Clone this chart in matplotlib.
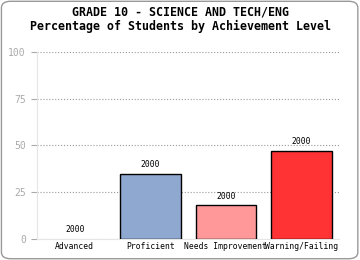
import matplotlib
matplotlib.use('Agg')
import matplotlib.pyplot as plt
from matplotlib.patches import FancyBboxPatch

# 데이터
levels = ['Advanced', 'Proficient', 'Needs Improvement', 'Warning/Failing']
percents = [0, 35, 18, 47]
bar_labels = ['2000', '2000', '2000', '2000']
colors = ['#8fa8cf', '#8fa8cf', '#ff9999', '#ff3333']
yticks = [0, 25, 50, 75, 100]

fig = plt.figure(figsize=(3.6, 2.6), dpi=100)

# 바깥 둥근 테두리
border = FancyBboxPatch((0.004, 0.005), 0.99, 0.99, boxstyle='round,pad=0,rounding_size=0.025',
                        transform=fig.transFigure, fill=False, edgecolor='#999999', linewidth=1.0)
fig.patches.append(border)

fig.text(0.5, 0.955, 'GRADE 10 - SCIENCE AND TECH/ENG', ha='center', va='center',
         family='DejaVu Sans Mono', fontweight='bold', fontsize=8.4)
fig.text(0.5, 0.9, 'Percentage of Students by Achievement Level', ha='center', va='center',
         family='DejaVu Sans Mono', fontweight='bold', fontsize=8.4)

ax = fig.add_axes([0.103, 0.081, 0.839, 0.719])
x = range(len(levels))
bars = ax.bar(x, percents, width=0.8, color=colors, edgecolor='black', linewidth=1.0, zorder=3)
for b, p in zip(bars, percents):
    if p == 0:
        b.set_linewidth(0)
for i, (p, lab) in enumerate(zip(percents, bar_labels)):
    ax.text(i, p + 2.5, lab, ha='center', va='bottom', fontsize=5.8, family='DejaVu Sans Mono')

ax.set_xlim(-0.5, len(levels) - 0.5)
ax.set_ylim(0, 100)
ax.set_yticks(yticks)
ax.set_yticklabels([str(t) for t in yticks], color='#aaaaaa', fontsize=7, family='DejaVu Sans Mono')
ax.set_xticks(list(x))
ax.set_xticklabels(levels, fontsize=5.8, family='DejaVu Sans Mono')
ax.tick_params(axis='x', length=0, pad=2)
ax.tick_params(axis='y', length=4, color='#aaaaaa', pad=4)
ax.yaxis.grid(True, linestyle=':', color='#999999', linewidth=0.8, zorder=0)
for s in ['top', 'right']:
    ax.spines[s].set_visible(False)
for s in ['left', 'bottom']:
    ax.spines[s].set_color('#e6e6e6')

plt.savefig('out.png', dpi=100)
